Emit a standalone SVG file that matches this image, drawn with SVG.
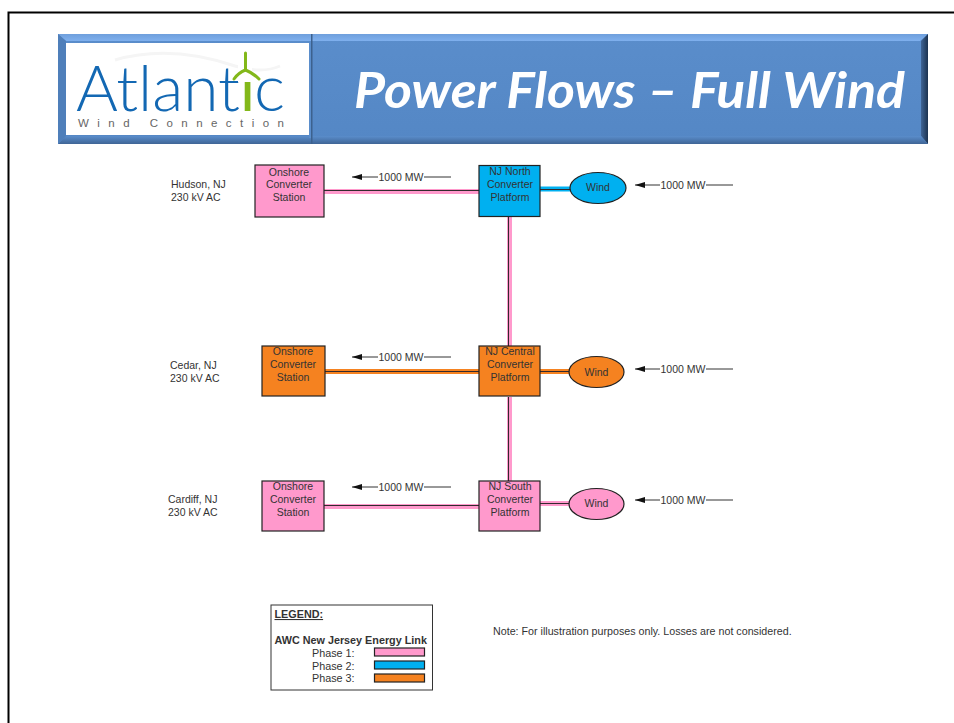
<svg xmlns="http://www.w3.org/2000/svg" width="954" height="723" viewBox="0 0 954 723">
<style>
.t{font-family:"Liberation Sans",Arial,sans-serif;font-size:10.5px;fill:#333;text-anchor:middle}
.l{font-family:"Liberation Sans",Arial,sans-serif;font-size:10.8px;fill:#333}
.s{font-family:"Liberation Sans",Arial,sans-serif;font-size:10.5px;fill:#333}
.logo{font-family:Lato,sans-serif;font-size:63px;font-weight:300;fill:#1368b3}
.b{stroke:#222;stroke-width:1.2}
.pink{fill:#ff99cc}.blue{fill:#00b0f0}.orange{fill:#f58220}
.a{stroke:#333;stroke-width:1;fill:none}
.p{stroke:#ff99cc;stroke-width:5;fill:none}.bl{stroke:#00b0f0;stroke-width:5;fill:none}.o{stroke:#f58220;stroke-width:5;fill:none}
.c{stroke:#332a2e;stroke-width:1;fill:none}
</style>
<defs>
<marker id="ah" markerWidth="10" markerHeight="6" refX="0" refY="3" orient="0" markerUnits="userSpaceOnUse"><path d="M10 0L0 3L10 6Z" fill="#111"/></marker>
<linearGradient id="hdr" x1="0" y1="0" x2="0" y2="1"><stop offset="0" stop-color="#5a8dcb"/><stop offset="1" stop-color="#5487c5"/></linearGradient>
<linearGradient id="tb" x1="0" y1="0" x2="0" y2="1"><stop offset="0" stop-color="#6f9fdc"/><stop offset="1" stop-color="#7fb0ee"/></linearGradient>
<linearGradient id="bb" x1="0" y1="0" x2="0" y2="1"><stop offset="0" stop-color="#5a8dcb"/><stop offset="1" stop-color="#3f6596"/></linearGradient>
<linearGradient id="rb" x1="0" y1="0" x2="1" y2="0"><stop offset="0" stop-color="#3f6596"/><stop offset="1" stop-color="#1c3350"/></linearGradient>
</defs>
<rect width="954" height="723" fill="#fff"/>
<path d="M8.500 723V12.500H954" fill="none" stroke="#000" stroke-width="2"/>
<g id="header">
<rect x="58" y="34" width="870" height="110" fill="url(#hdr)"/>
<path d="M58 34H928L920 41H66Z" fill="url(#tb)"/>
<path d="M928 34V144L921 136V41Z" fill="url(#rb)"/>
<path d="M58 144H928L921 136H66Z" fill="url(#bb)"/>
<path d="M58 34V144L66 136V41Z" fill="#4f7fba"/>
<rect x="311" y="34" width="1.500" height="110" fill="#3c618e"/>
<rect x="66" y="43" width="243" height="92" fill="#fff"/>
<rect x="309" y="41" width="2" height="97" fill="#5a8dcb"/>
<path d="M115 60Q170 44 235 66Q262 74 280 66" fill="none" stroke="#f5f5f5" stroke-width="3"/>
<text class="logo" x="76" y="111" textLength="164" lengthAdjust="spacingAndGlyphs">Atlant</text>
<text class="logo" x="240" y="111" style="fill:#83b81a;font-weight:400">i</text>
<text class="logo" x="254" y="111" textLength="31" lengthAdjust="spacingAndGlyphs">c</text>
<text x="78" y="127" font-family="Liberation Sans,sans-serif" font-size="11.500" fill="#666" textLength="206" lengthAdjust="spacing">Wind Connection</text>
<rect x="238" y="60" width="14" height="22" fill="#fff"/>
<g stroke="#83b81a" stroke-linecap="round" fill="none"><path d="M245.500 53V69" stroke-width="3"/><path d="M245.500 70Q238 73 234 79" stroke-width="3"/><path d="M245.500 70Q253 73 259 79" stroke-width="3"/></g>
<text x="354" y="108" font-family="Lato,Open Sans,sans-serif" font-size="50" font-weight="700" font-style="italic" fill="#fff" textLength="551" lengthAdjust="spacingAndGlyphs">Power Flows – Full Wind</text>
</g>
<g id="connectors">
<path class="p" d="M324 191.500H479"/><path class="c" d="M324 190.500H479"/>
<path class="p" d="M509.500 217V346"/><path class="c" d="M508.500 217V346"/>
<path class="p" d="M509.500 397V481"/><path class="c" d="M508.500 397V481"/>
<path class="o" d="M325 371.500H479"/><path class="c" d="M325 371.500H479"/>
<path class="p" d="M324 506.500H479"/><path class="c" d="M324 505.500H479"/>
<path class="bl" d="M540 189H572"/><path class="c" d="M540 189.500H572"/>
<path class="o" d="M540 371.500H570"/><path class="c" d="M540 371.500H570"/>
<path class="p" d="M540 503.500H570"/><path class="c" d="M540 503.500H570"/>
<path class="a" marker-start="url(#ah)" d="M352 177H378M424 177H451"/>
<path class="a" marker-start="url(#ah)" d="M635 185H660M706 185H733"/>
<path class="a" marker-start="url(#ah)" d="M352 357H378M424 357H451"/>
<path class="a" marker-start="url(#ah)" d="M635 369H660M706 369H733"/>
<path class="a" marker-start="url(#ah)" d="M352 487H378M424 487H451"/>
<path class="a" marker-start="url(#ah)" d="M635 500H660M706 500H733"/>
<text class="t" x="401" y="181">1000 MW</text>
<text class="t" x="683" y="189">1000 MW</text>
<text class="t" x="401" y="361">1000 MW</text>
<text class="t" x="683" y="373">1000 MW</text>
<text class="t" x="401" y="491">1000 MW</text>
<text class="t" x="683" y="504">1000 MW</text>
</g>
<g id="hudson-label"><text class="s" x="171" y="188">Hudson, NJ</text><text class="s" x="171" y="201">230 kV AC</text></g>
<g id="cedar-label"><text class="s" x="170" y="369">Cedar, NJ</text><text class="s" x="170" y="382">230 kV AC</text></g>
<g id="cardiff-label"><text class="s" x="168" y="503">Cardiff, NJ</text><text class="s" x="168" y="516">230 kV AC</text></g>
<g id="onshore-hudson"><rect class="b pink" x="255" y="165" width="69" height="52"/><text class="t" x="289" y="176">Onshore</text><text class="t" x="289" y="188">Converter</text><text class="t" x="289" y="201">Station</text></g>
<g id="onshore-cedar"><rect class="b orange" x="262" y="346" width="63" height="50"/><text class="t" x="293" y="355">Onshore</text><text class="t" x="293" y="368">Converter</text><text class="t" x="293" y="381">Station</text></g>
<g id="onshore-cardiff"><rect class="b pink" x="262" y="481" width="62" height="50"/><text class="t" x="293" y="490">Onshore</text><text class="t" x="293" y="503">Converter</text><text class="t" x="293" y="516">Station</text></g>
<g id="nj-north"><rect class="b blue" x="479" y="165.500" width="61" height="51"/><text class="t" x="510" y="175">NJ North</text><text class="t" x="510" y="188">Converter</text><text class="t" x="510" y="201">Platform</text></g>
<g id="nj-central"><rect class="b orange" x="479" y="346" width="61" height="50"/><text class="t" x="510" y="355">NJ Central</text><text class="t" x="510" y="368">Converter</text><text class="t" x="510" y="381">Platform</text></g>
<g id="nj-south"><rect class="b pink" x="479" y="481" width="61" height="50"/><text class="t" x="510" y="490">NJ South</text><text class="t" x="510" y="503">Converter</text><text class="t" x="510" y="516">Platform</text></g>
<g id="wind-north"><ellipse class="b blue" cx="598" cy="188" rx="28" ry="15.500"/><text class="t" x="598" y="191">Wind</text></g>
<g id="wind-central"><ellipse class="b orange" cx="596.500" cy="372" rx="27.500" ry="15.500"/><text class="t" x="596.500" y="376">Wind</text></g>
<g id="wind-south"><ellipse class="b pink" cx="596.500" cy="504" rx="27.500" ry="15.500"/><text class="t" x="596.500" y="507">Wind</text></g>
<g id="legend">
<rect x="271" y="605" width="161.500" height="85" fill="#fff" stroke="#333" stroke-width="1"/>
<text class="l" x="274.500" y="618" font-weight="700" text-decoration="underline">LEGEND:</text>
<text class="l" x="274.500" y="644" font-weight="700">AWC New Jersey Energy Link</text>
<text class="l" x="312" y="657">Phase 1:</text>
<text class="l" x="312" y="670">Phase 2:</text>
<text class="l" x="312" y="682">Phase 3:</text>
<rect class="b pink" x="374.500" y="648" width="50" height="8"/>
<rect class="b blue" x="374.500" y="661" width="50" height="8"/>
<rect class="b orange" x="374.500" y="674" width="50" height="8"/>
</g>
<text id="note" class="l" style="font-size:10.7px" x="493" y="635">Note: For illustration purposes only. Losses are not considered.</text>
</svg>
